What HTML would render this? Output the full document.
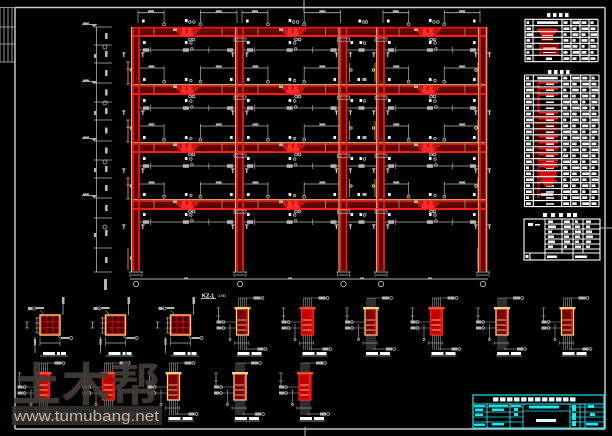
<!DOCTYPE html>
<html><head><meta charset="utf-8">
<style>
html,body{margin:0;padding:0;background:#000;overflow:hidden;}
svg{display:block}
</style></head>
<body>
<svg id="s" width="612" height="436" viewBox="0 0 612 436" xmlns="http://www.w3.org/2000/svg">
<rect width="612" height="436" fill="#000"/>
</svg>
<script>
const S=document.getElementById('s'),NS='http://www.w3.org/2000/svg';
const G='#b4b4b4',W='#ffffff',RD='#ff1818',DR='#5a0000',Y='#ffd07a',CY='#1ee6f0';
function E(t,a,txt){const e=document.createElementNS(NS,t);for(const k in a)e.setAttribute(k,a[k]);if(txt!=null)e.textContent=txt;S.appendChild(e);return e;}
function L(x1,y1,x2,y2,c,w){return E('line',{x1:x1,y1:y1,x2:x2,y2:y2,stroke:c||G,'stroke-width':w||0.8});}
function R(x,y,w,h,f,st,sw){return E('rect',{x:x,y:y,width:w,height:h,fill:f||'none',stroke:st||'none','stroke-width':sw||1});}
function C(cx,cy,r,c,w){return E('circle',{cx:cx,cy:cy,r:r,fill:'none',stroke:c||G,'stroke-width':w||0.8});}
function P(pts,f){return E('polygon',{points:pts,fill:f});}
function blob(x,y,w,h,c){return R(x,y,w,h,c||G);}
function wm(x,y){R(x,y,2.6,3,W);}
function T(x,y){E('text',{x:x,y:y,'font-size':6,'font-family':'Liberation Sans, sans-serif','font-weight':'bold',fill:W},'T');}

/* ---------- drawing frame ---------- */
L(15,7.5,605,7.5,'#c8c8c8',1.5);
L(15,7.5,15,429,'#c8c8c8',1.5);
L(605,7.5,605,429,'#c8c8c8',1.5);
L(15,429,605,429,'#c8c8c8',1.5);
L(304,0,304,12,G,1);
L(305,427,305,436,G,1);
L(600,228,612,228,G,1);
[0,4,8,12].forEach(x=>L(x,7.5,x,62,G,0.8));
[7.5,27,44,62].forEach(y=>L(0,y,15,y,G,0.8));

/* ---------- left dimensions ---------- */
L(96.5,27,96.5,272,G,0.8);
const dt=[27,45,63,83,102,120,141,160,178,198,218,248,272];
dt.forEach(y=>L(94,y,112,y,G,0.7));
for(let i=0;i<dt.length-1;i++){const m=(dt[i]+dt[i+1])/2;blob(105,m-3,2.6,6);}
[27,84,141,198].forEach(y=>{L(82,y-2.5,97,y-2.5,G,0.9);blob(83,y-4.5,6,2);P(`${91},${y-2.5} ${94},${y} ${97},${y-2.5}`,G);});
[47,103,162,227].forEach(y=>C(105,y,2));
[56,113,170,235].forEach(y=>blob(94,y-2,2,4));
blob(104,279,3,11);

/* ---------- frame geometry ---------- */
const cols=[136,240,343.5,381,483];
const beams=[27,84,142,199];
const bays=[[136,240],[240,343.5],[343.5,381],[381,483]];
const bb=[37,95,153,209], nt=[84,142,199,270];

/* top dims */
bays.forEach(([c1,c2])=>{const w=c2-c1;
 if(w>60){const a1=c1+2,a2=c1+0.27*w,b1=c2-0.38*w,b2=c2-3;
  L(a1,12.7,a2,12.7);L(b1,12.7,b2,12.7);
  [a1,a2,b1,b2].forEach(x=>L(x,10,x,23,G,0.7));
  C(a2,24.3,1.5);C(b1,24.3,1.5);
  blob((a1+a2)/2-3,10.3,6,2);blob((b1+b2)/2-3,10.3,6,2);
  wm(c1+6,19.5);wm(c1+0.47*w,19);C(c1+0.47*w+5,22,1.3);C(c1+0.47*w+9,22,1.3);
  if(c2==483) wm(c2-10,19.5);
 } else {wm(c1+15,19.5);C(c1+20,22,1.3);C(c1+23,22,1.3);}
});

/* bay contents */
for(let s=0;s<4;s++){const Bb=bb[s],Nt=nt[s];
 T(122,Bb+20);T(487.5,Bb+20);
 if(s<3){L(128,Bb+25,128,Nt,Y,0.7);[Bb+25,Bb+32,Nt].forEach(y=>L(126,y,130,y,Y,0.6));C(131.5,Bb+33,1.3,Y);
  L(478,Bb+25,478,Nt,Y,0.7);C(476,Bb+33,1.3,Y);}
 else {L(128,Bb+39,128,Nt,Y,0.7);L(478,Bb+39,478,Nt,Y,0.7);C(131.5,258,1.3,Y);}
 bays.forEach(([c1,c2])=>{const w=c2-c1;
  if(w>60){
   wm(c1+7,Bb+4);wm(c1+0.47*w,Bb+4);C(c1+0.47*w+6,Bb+6,1.3);
   if(c2==483)wm(c2-10,Bb+4);
   L(c1+4,Bb+13,c2-4,Bb+13,G,0.7);
   blob(c1+7,Bb+11.3,6,3.5);blob(c1+0.47*w-2,Bb+11.3,6,3.5);blob(c2-13,Bb+11.3,6,3.5);
   C(c1+0.47*w+7,Bb+12,1.3);
   L(c1+0.14*w,Bb+10,c1+0.14*w,Bb+16,G,0.6);L(c2-0.3*w,Bb+10,c2-0.3*w,Bb+16,G,0.6);
   T(c1+5,Bb+20);T(c2-9,Bb+20);
   if(s<3){const yb=Bb+31,ye=Nt-3.5;
    const a1=c1+3,a2=c1+0.27*w,b1=c2-0.38*w,b2=c2-3;
    L(a1,yb,a2,yb,G,0.7);L(b1,yb,b2,yb,G,0.7);
    [a1,a2,b1,b2].forEach(x=>L(x,yb-2,x,ye,G,0.7));
    C(a2,ye+1.2,1.4);C(b1,ye+1.2,1.4);
    blob((a1+a2)/2-3,yb-2.6,6,2);blob((b1+b2)/2-3,yb-2.6,6,2);
    wm(c1+7,Nt-6);wm(c1+0.47*w,Nt-6);C(c1+0.47*w+6,Nt-3.5,1.2);wm(c2-10,Nt-6);
   }
  } else {
   wm(c1+7,Bb+4);wm(c1+16,Bb+4);C(c1+21,Bb+6,1.3);
   L(c1+4,Bb+13,c2-4,Bb+13,G,0.7);blob(c1+15,Bb+11.3,6,3.5);
   T(c1+5,Bb+20);T(c2-9,Bb+20);
   if(s<3){wm(c1+14,Nt-6);blob(c1+19,Nt-6,4,3);
    L(c1+6,Bb+26,c1+6,Nt-2,Y,0.6);L(c2-6,Bb+26,c2-6,Nt-2,Y,0.6);C(c1+7.5,Bb+33,1.2,Y);C(c2-7.5,Bb+33,1.2,Y);}
  }
 });
}

/* column fills */
cols.forEach(c=>R(c-4,27,8,244,DR));

/* beams */
beams.forEach((B,s)=>{const h=s==0?10:11;
 R(131,B,356,h,DR);
 L(131,B+0.7,487,B+0.7,s==0?RD:Y,s==0?1.6:1);
 if(s>0)L(131,B+2.2,487,B+2.2,RD,1);
 L(131,B+4,487,B+4,'#a01818',0.6);
 L(131,B+h-1,487,B+h-1,RD,2);
 bays.forEach(([c1,c2])=>{const w=c2-c1;if(w>60){[c1+18,c2-18].forEach(x=>L(x,B+1.5,x,B+h-1.5,'#c8c8c8',0.6));}});
});

/* column lines */
cols.forEach((c,i)=>{
 L(c-3,27,c-3,271,RD,1.6);L(c+3,27,c+3,271,RD,1.6);
 L(c-4.6,27,c-4.6,272,Y,0.9);
 if(i==4)L(c+3.8,27,c+3.8,272,Y,0.9);
 if(i>0&&i<4)bb.slice(0,4).forEach(y=>R(c-6,y+1,12,3.2,'none','#c0c0c0',0.7));
});

/* beam decorations */
beams.forEach(B=>{[187,293,428].forEach(c=>{
 P(`${c-14},${B+1.5} ${c+14},${B+1.5} ${c+7},${B+9} ${c-7},${B+9}`,'#c81414');
 R(c-5,B+1,3.6,9,'#ff2b2b');R(c+1,B+1,3.6,9,'#ff2b2b');R(c-6,B+6,12,3,'#ff2b2b');
 blob(c-14,B+1.5,4,2.5,'#b0b0b0');
 C(c+3,B+12.5,1.4,'#cccccc');C(c+6.5,B+12.5,1.4,'#cccccc');
});});

/* base / ground */
cols.forEach(c=>{L(c-7,272,c+7,272,G,0.9);L(c-5,275,c+5,275,G,0.8);L(c-6,272,c-6,277,G,0.6);L(c+6,272,c+6,277,G,0.6);C(c,284,2.7,G,0.9);});
L(130,279,488,279,G,0.9);
[186,290,362,430].forEach(x=>blob(x-2,277.5,4,2));

/* ---------- title KZ-1 ---------- */
E('text',{x:202,y:297.3,'font-size':5.5,'font-family':'Liberation Sans, sans-serif','font-weight':'bold',fill:W},'KZ-1');
L(201,298.5,216,298.5,W,0.7);
E('text',{x:218,y:297,'font-size':4,'font-family':'Liberation Sans, sans-serif',fill:W},'1:50');

/* ---------- square column sections ---------- */
function sq(cx,cy){
 L(cx-23,cy-3,cx-23,cy+3,G,0.8);L(cx-25,cy-3,cx-21,cy-3,G,0.6);L(cx-25,cy+3,cx-21,cy+3,G,0.6);
 L(cx-13,cy-8,cx-13,cy+8,G,0.7);
 [cy-7,cy-2,cy+3,cy+8].forEach(y=>L(cx-15,y,cx-10,y,G,0.6));
 blob(cx-22,cy-18,4,3);C(cx-16,cy-16.5,1.5);blob(cx-14,cy-18,8,2);L(cx-10,cy-15,cx-6,cy-10,G,0.6);
 L(cx+13,cy-27,cx+13,cy-10,G,0.8);blob(cx+12,cy-28,2.5,7);
 R(cx-10,cy-10,20,20,'#b00000',Y,1.4);
 for(let i=0;i<3;i++)for(let j=0;j<3;j++)R(cx-8.5+i*6,cy-8.5+j*6,4.5,4.5,'#3a0000');
 R(cx-9,cy-9,18,18,'none','#ff3030',0.8);
 L(cx-15,cy+12,cx-15,cy+28,G,0.8);blob(cx-16,cy+14,2,6);
 L(cx-10,cy+18,cx+10,cy+18,G,0.8);L(cx-10,cy+12,cx-10,cy+21,G,0.6);L(cx+10,cy+12,cx+10,cy+21,G,0.6);
 L(cx+8,cy+11,cx+10,cy+13,G,0.6);blob(cx+11,cy+12,8,2);C(cx+21,cy+13,1.5);
 R(cx-7,cy+27,12,3,W);R(cx+7,cy+27,3,3,W);R(cx+11,cy+27,5,3,W);L(cx-10,cy+31,cx+18,cy+31,W,0.5);
}
[50,115.5,180.5].forEach(cx=>sq(cx,325));

/* ---------- rectangular sections ---------- */
function rs(cx,top,bot,yel){
 for(let dx=-4;dx<=4;dx+=2)L(cx+dx,top-10,cx+dx,top,G,0.5);
 L(cx-4,top-10,cx+14,top-10,G,0.6);blob(cx+11,top-11.5,7,3);C(cx+20,top-10,1.4);
 L(cx-24,top+14,cx-6,top+14,G,0.6);L(cx-24,top+20,cx-6,top+20,G,0.6);
 blob(cx-26,top+12.5,5,3);C(cx-19,top+14,1.4);blob(cx-26,top+18.5,5,3);C(cx-19,top+20,1.4);
 L(cx-24,top,cx-24,top+15,G,0.7);L(cx-26,top,cx-22,top,G,0.6);L(cx-26,top+8,cx-22,top+8,G,0.6);
 L(cx-12.5,top+16,cx-12.5,bot+4,G,0.6);C(cx-12.5,bot+4.5,1);
 R(cx-6,top,12,bot-top,yel?'#7a0000':'#c00000',yel?Y:RD,1.3);
 R(cx-8,top-1,16,2.4,yel?Y:'#ff5030');
 [top+12,top+17,top+22].forEach(y=>L(cx-5,y,cx+5,y,'#ffe0a0',0.8));
 L(cx+4.5,top+1,cx+4.5,bot-1,RD,1.2);
 for(let dx=-4;dx<=4;dx+=2)L(cx+dx,bot,cx+dx,bot+15,G,0.5);
 L(cx+2,bot+14,cx+18,bot+14,G,0.6);blob(cx+15,bot+12.5,6,3);C(cx+23,bot+14,1.4);
 L(cx-8,bot+8,cx+6,bot+8,G,0.6);L(cx-8,bot+6,cx-8,bot+10,G,0.5);L(cx+6,bot+6,cx+6,bot+10,G,0.5);
 R(cx-5,bot+17,12,3,W);R(cx+9,bot+17,10,3,W);L(cx-6,bot+21,cx+20,bot+21,W,0.5);
}
[[242.5,1],[307.5,0],[371,1],[436.5,0],[502,1],[567.5,1]].forEach(([x,y])=>rs(x,308,335,y));
[[43.5,0],[108.5,0],[173.5,1],[240,1],[305,0]].forEach(([x,y])=>rs(x,373,400,y));

/* ---------- tables ---------- */
function grid(xs,ys,col){
 ys.forEach(y=>L(xs[0],y,xs[xs.length-1],y,col||W,1.1));
 xs.forEach(x=>L(x,ys[0],x,ys[ys.length-1],col||W,1.1));
}
function cellBlobs(xs,ys,skipCol1){
 for(let i=0;i<ys.length-1;i++){const y=ys[i],h=ys[i+1]-y;
  for(let j=0;j<xs.length-1;j++){const x=xs[j],w=xs[j+1]-x;
   if(j==1&&skipCol1&&i>0)continue;
   if(j==1){blob(x+4,y+h/2-1.2,w-8,2.6,W);continue;}
   blob(x+1.5,y+h/2-1.2,Math.max(2,w*(0.35+((i*7+j*3)%5)*0.1)),2.6,W);
  }}
}
/* table 1 */
[547,553,559,565].forEach(x=>blob(x,13,3.5,4,W));
const t1x=[525,533,562,571,580,589,598];
const t1y=[19.3,25.7,31.7,37.3,43.3,49.3,55.3,61.7];
cellBlobs(t1x,t1y,true);
P('537,29 558,29 553,36 542,36','#e01010');R(537,28.5,21,2,'#ff2020');
R(541,35,12,6,'#9a0000');L(542,35.5,553,35.5,W,0.8);L(542,39.5,553,39.5,W,0.8);
R(540,44,18,11,'#7a0000','#ff2020',0.9);L(543,48,556,48,W,1);L(543,52.5,556,52.5,W,1);
blob(546,57.5,6,2.5,W);
grid(t1x,t1y);

/* table 2 */
[548,554,560,566].forEach(x=>blob(x,70,3.5,4,W));
const t2x=[524.5,533.3,561.7,570.7,580.7,590,599];
const t2y=[];for(let i=0;i<=22;i++)t2y.push(75+i*5.98);
cellBlobs(t2x,t2y,true);
R(537,82,3,116,'#a00000');R(535,113,23,44,'#4a0000');
for(let i=1;i<22;i++){const y=t2y[i];
 if([1,2,3,6,7,10,11,12,13,14,15].includes(i))R(539,y+1,19,1.6,RD);
 R(546,y+2.6,8,1.5,W);}
P('539,162 558,162 553,168 544,168','#e01010');
P('538,171 558,171 552,186 544,186','#c01010');R(540,175,17,1.6,RD);R(540,180,17,1.6,RD);
blob(541,193,12,3,'#e0b0b0');
grid(t2x,t2y);

/* table 3 */
[543,551,559,567,573].forEach(x=>blob(x,213,4,4,W));
R(524,219,76,41,'none',W,1.1);
[224,229,234,239,244,249].forEach(y=>L(545,y,600,y,W,1));
L(524,253,600,253,W,1.1);
[545,562,573,583].forEach(x=>L(x,219,x,253,W,1));
L(530,253,530,260,W,1);L(545,253,545,260,W,1);L(573,253,573,260,W,1);
blob(528,223,5,3,W);R(535,224,5,1.5,W);
for(let i=0;i<6;i++){const y=[219,224,229,234,239,244][i];
 blob(548,y+1.5,[5,8,4,6,7,5][i],2.4,W);blob(564,y+1.5,[6,7,4,5,6,3][i],2.4,W);blob(575,y+1.5,[3,5,6,5,4,6][i],2.4,W);blob(586,y+1.5,[5,4,6,7,5,4][i],2.4,W);}
blob(525.5,255,3,3,W);blob(547,255.5,10,2.5,W);blob(575,255.5,12,2.5,W);

/* ---------- title block ---------- */
R(473,395,131,33,'none',CY,1.2);
L(473,404,604,404,CY,1);
L(473,407,523,407,CY,0.8);L(570,407,604,407,CY,0.8);
[412,417,422].forEach(y=>{L(473,y,523,y,CY,0.8);L(570,y,604,y,CY,0.8);});
L(523,411,570,411,CY,0.8);
[487,510,523,570,580,585].forEach(x=>L(x,404,x,428,CY,0.9));
[493,500,507,514,521,528,535,542,549,556,563,570].forEach(x=>blob(x,397.3,5.5,4.2,'#e8ffff'));
blob(474,405,11,1.6,CY);blob(489,405,19,1.6,CY);blob(511,405,10,1.6,CY);
blob(475,408.5,8,2.5,CY);blob(492,408.5,12,2.5,CY);blob(514,408,4,3,CY);
blob(475,413.5,8,2.5,CY);blob(514,413,4,3,CY);
blob(474,423.5,11,2.5,CY);blob(492,423,12,2.5,CY);
blob(529,405.5,30,3,CY);blob(536,419,20,3,'#d0ffff');
blob(572,405,4,6,CY);blob(572,413,4,7,CY);blob(572,421,4,5,CY);
blob(588,405,6,3,CY);blob(590,413,5,3,CY);blob(586,423,12,2.5,CY);

/* ---------- watermark ---------- */
E('text',{x:12,y:401,'font-size':46,'font-family':'Noto Sans CJK SC, WenQuanYi Zen Hei, sans-serif','font-weight':'bold',fill:'#423d39','fill-opacity':0.92,textLength:148,lengthAdjust:'spacingAndGlyphs'},'土木帮');
R(12,406,150,19,'#34302d',null,null).setAttribute('fill-opacity','0.9');
E('text',{x:14,y:421,'font-size':15,'font-family':'Liberation Sans, sans-serif',fill:'#bdb5ad',textLength:145,lengthAdjust:'spacingAndGlyphs'},'www.tumubang.net');
</script>
</body></html>
